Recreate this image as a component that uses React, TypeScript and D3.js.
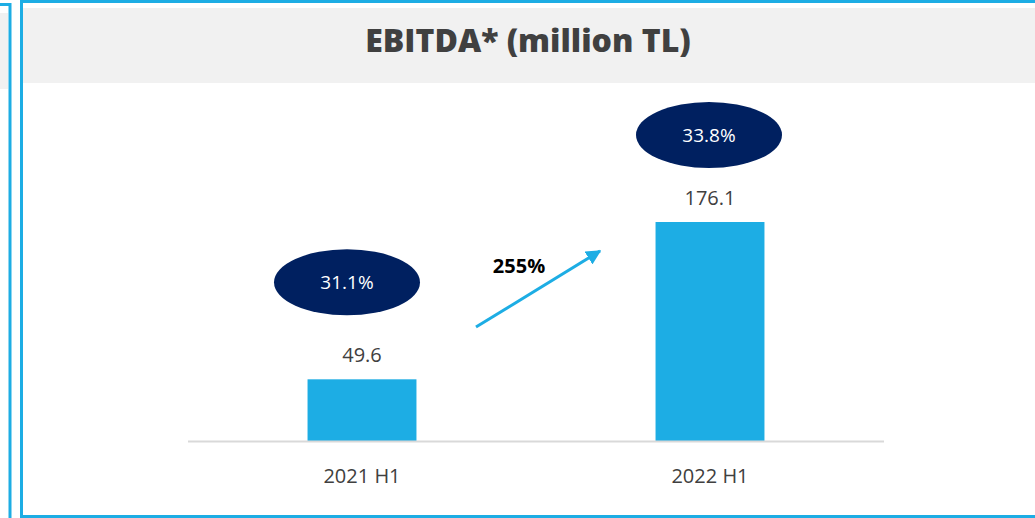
import * as d3 from 'd3';
import { useEffect } from 'react';

const categories = ['2021 H1', '2022 H1'];
const ebitda = [49.6, 176.1];
const margins = ['31.1%', '33.8%'];
const growthLabel = '255%';
const title = 'EBITDA* (million TL)';

const width = 1035;
const height = 518;
const blue = '#1dade4';
const navy = '#002060';
const textGrey = '#404040';

export default function App() {
  useEffect(() => {
    document.body.style.margin = '0';
  }, []);

  const x = d3
    .scaleBand<string>()
    .domain(categories)
    .range([188, 884])
    .paddingInner(0.687)
    .paddingOuter(0.3435);
  const y = d3.scaleLinear([0, 176.1], [441, 222]);
  const bw = x.bandwidth();
  const cx = (c: string) => (x(c) ?? 0) + bw / 2;

  // ellipse offsets from bar top (annotation placement)
  const ellipseDx = [-15, -1];
  const ellipseDy = [-97, -87];

  // growth arrow goes between the two bars
  const a0 = cx(categories[0]) + 114;
  const a1 = cx(categories[1]) - 110;

  return (
    <svg
      width={width}
      height={height}
      style={{ position: 'absolute', left: 0, top: 0, background: '#fff' }}
    >
      <defs>
        <marker
          id="arrowhead"
          viewBox="0 0 10 10"
          refX="9"
          refY="5"
          markerWidth="5"
          markerHeight="5"
          orient="auto"
        >
          <path d="M0,0 L10,5 L0,10 z" fill={blue} />
        </marker>
      </defs>

      {/* previous panel sliver */}
      <rect x={-20} y={13} width={28} height={76} fill="#f1f1f1" />
      <path d="M0,4.5 H10 V518" fill="none" stroke={blue} strokeWidth={3} />

      {/* main panel */}
      <rect x={23} y={8} width={width} height={75} fill="#f1f1f1" />
      <path
        d={`M${width + 5},1.5 H21.5 V516.5 H${width + 5}`}
        fill="none"
        stroke={blue}
        strokeWidth={3}
      />
      <text
        x={528}
        y={52}
        textAnchor="middle"
        fontFamily="'Open Sans', sans-serif"
        fontWeight={800}
        fontSize={32}
        fill={textGrey}
      >
        {title}
      </text>

      {/* bars */}
      {categories.map((c, i) => (
        <rect
          key={c}
          x={x(c)}
          y={y(ebitda[i])}
          width={bw}
          height={y(0) - y(ebitda[i])}
          fill={blue}
        />
      ))}

      {/* baseline */}
      <line x1={188} x2={884} y1={y(0) + 0.5} y2={y(0) + 0.5} stroke="#d9d9d9" strokeWidth={2} />

      {/* value labels */}
      {categories.map((c, i) => (
        <text
          key={c}
          x={cx(c)}
          y={y(ebitda[i]) - 17}
          textAnchor="middle"
          fontFamily="'Open Sans', sans-serif"
          fontSize={20}
          fill={textGrey}
        >
          {ebitda[i].toFixed(1)}
        </text>
      ))}

      {/* category labels */}
      {categories.map((c) => (
        <text
          key={c}
          x={cx(c)}
          y={483}
          textAnchor="middle"
          fontFamily="'Open Sans', sans-serif"
          fontSize={20}
          fill={textGrey}
        >
          {c}
        </text>
      ))}

      {/* margin ellipses */}
      {categories.map((c, i) => {
        const ex = cx(c) + ellipseDx[i];
        const ey = y(ebitda[i]) + ellipseDy[i];
        return (
          <g key={c}>
            <ellipse cx={ex} cy={ey} rx={73} ry={33} fill={navy} />
            <text
              x={ex}
              y={ey + 7}
              textAnchor="middle"
              fontFamily="'Open Sans', sans-serif"
              fontSize={19}
              fill="#fff"
            >
              {margins[i]}
            </text>
          </g>
        );
      })}

      {/* growth arrow */}
      <line
        x1={a0}
        y1={327}
        x2={a1}
        y2={251}
        stroke={blue}
        strokeWidth={3}
        markerEnd="url(#arrowhead)"
      />
      <text
        x={519}
        y={273}
        textAnchor="middle"
        fontFamily="'Open Sans', sans-serif"
        fontWeight={700}
        fontSize={20}
        fill="#000"
      >
        {growthLabel}
      </text>
    </svg>
  );
}
